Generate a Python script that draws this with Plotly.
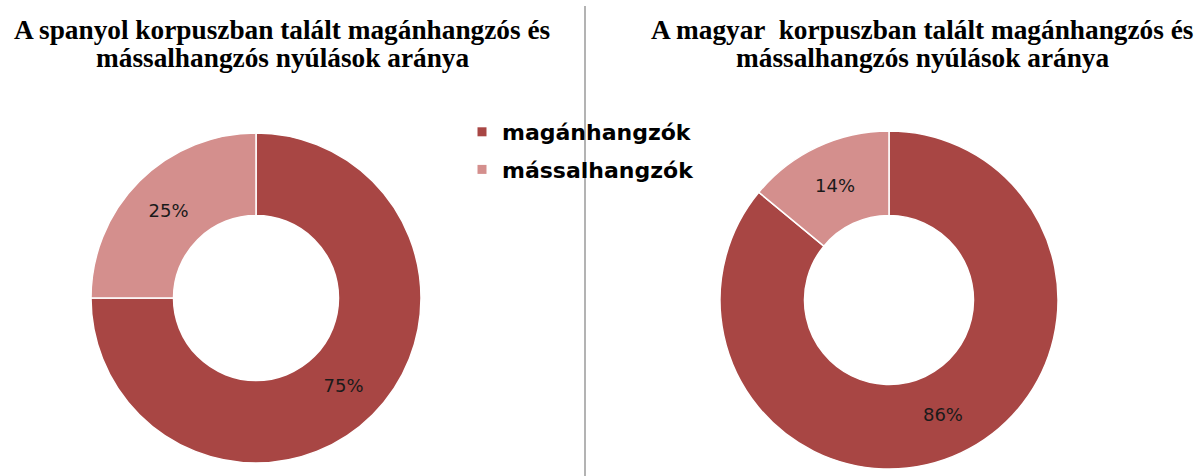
import plotly.graph_objects as go

labels = ["magánhangzók", "mássalhangzók"]
spanish_values = [75, 25]
hungarian_values = [86, 14]
colors = ["#A84644", "#D48F8D"]
title_left = ["A spanyol korpuszban talált magánhangzós és", "mássalhangzós nyúlások aránya"]
title_right = ["A magyar  korpuszban talált magánhangzós és", "mássalhangzós nyúlások aránya"]

W, H = 1198, 476


def fx(px):
    return px / W


def fy(py):
    return 1 - py / H


def pie(values, cx, cy, r):
    return go.Pie(
        labels=labels, values=values, hole=0.5, sort=False, direction="clockwise",
        rotation=0, marker=dict(colors=colors, line=dict(color="white", width=1.5)),
        textinfo="percent", textposition="inside", insidetextorientation="horizontal",
        textfont=dict(family="DejaVu Sans", size=18, color="#1a1a1a"),
        domain=dict(x=[fx(cx - r), fx(cx + r)], y=[fy(cy + r), fy(cy - r)]),
        showlegend=False, hoverinfo="label+percent",
    )


fig = go.Figure()
fig.add_trace(pie(spanish_values, 256, 298, 165))
fig.add_trace(pie(hungarian_values, 889, 300, 169))

for lab, col in zip(labels, colors):
    fig.add_trace(go.Scatter(x=[None], y=[None], mode="markers", name=lab, legendgroup=lab,
                             marker=dict(symbol="square", size=9, color=col), showlegend=True))

annotations = []
for lines, cx in ((title_left, 282), (title_right, 922)):
    for line, cy in zip(lines, (30, 58)):
        annotations.append(dict(text="<b>" + line + "</b>", x=fx(cx), y=fy(cy), xref="paper", yref="paper",
                                showarrow=False, font=dict(family="Liberation Serif", size=27.3, color="black"),
                                xanchor="center", yanchor="middle", borderpad=0))

fig.update_layout(
    width=W, height=H, margin=dict(l=0, r=0, t=0, b=0),
    paper_bgcolor="white", plot_bgcolor="white",
    xaxis=dict(visible=False), yaxis=dict(visible=False),
    legend=dict(x=fx(462), y=fy(111), xanchor="left", yanchor="top", traceorder="grouped",
                tracegroupgap=6,
                font=dict(family="DejaVu Sans", size=22, color="black", weight="bold"),
                bgcolor="rgba(0,0,0,0)", itemwidth=30),
    shapes=[dict(type="line", xref="paper", yref="paper", x0=fx(585), x1=fx(585),
                 y0=0, y1=fy(6), line=dict(color="#9a9a9a", width=1.5))],
    annotations=annotations,
)

fig.write_html("out.html", config={"displayModeBar": False},
               post_script="document.body.style.margin='0';document.body.style.overflow='hidden';")
